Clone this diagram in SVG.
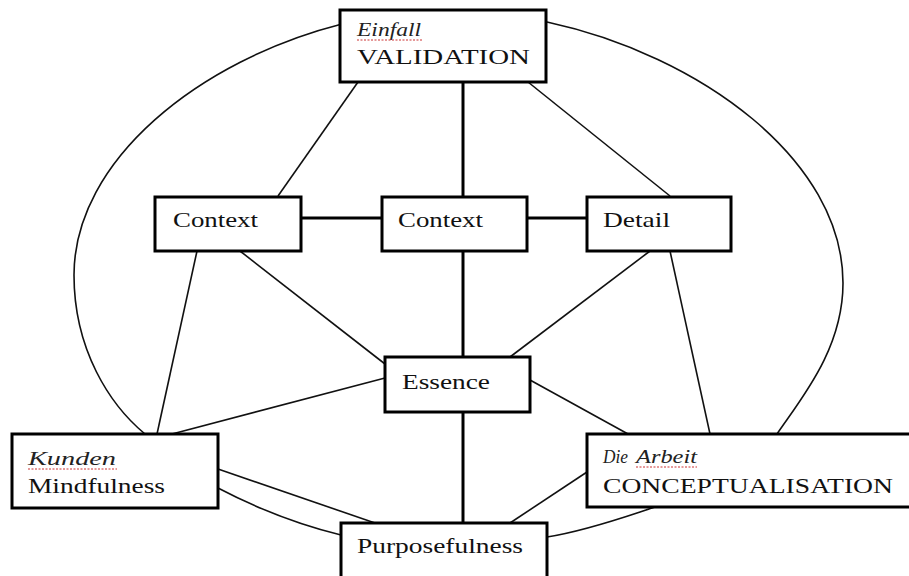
<svg xmlns="http://www.w3.org/2000/svg" width="909" height="576" viewBox="0 0 909 576">
<style>
.box{fill:#fff;stroke:#000;stroke-width:3}
.ln{stroke:#111;stroke-width:1.6;fill:none}
.vl{stroke:#000;stroke-width:3;fill:none}
.t{font-family:"Liberation Serif","Times New Roman",serif;font-size:21px;fill:#111}
.it{font-style:italic;font-size:19px;fill:#222}
.sq{stroke:#c33;stroke-width:1;fill:none;stroke-dasharray:2 1.5}
</style>
<rect width="909" height="576" fill="#fff"/>
<g id="connectors">
<path class="ln" d="M342,24 C200,60 74,160 74,275 C74,350 110,405 145,434"/>
<path class="ln" d="M547,22 C700,55 843,160 843,283 C843,350 800,400 777,434"/>
<path class="ln" d="M218,488 C260,510 300,525 341,535"/>
<path class="ln" d="M547,537 C590,530 630,515 655,507"/>
<line class="vl" x1="463" y1="82" x2="463" y2="196"/>
<line class="vl" x1="463" y1="250" x2="463" y2="357"/>
<line class="vl" x1="463" y1="412" x2="463" y2="523"/>
<line class="vl" x1="300" y1="218" x2="382" y2="218"/>
<line class="vl" x1="527" y1="218" x2="587" y2="218"/>
<line class="ln" x1="358" y1="82" x2="278" y2="196"/>
<line class="ln" x1="528" y1="82" x2="670" y2="196"/>
<line class="ln" x1="197" y1="251" x2="157" y2="434"/>
<line class="ln" x1="240" y1="251" x2="385" y2="364"/>
<line class="ln" x1="650" y1="251" x2="510" y2="357"/>
<line class="ln" x1="670" y1="251" x2="710" y2="434"/>
<line class="ln" x1="385" y1="378" x2="172" y2="434"/>
<line class="ln" x1="530" y1="380" x2="628" y2="434"/>
<line class="ln" x1="218" y1="469" x2="375" y2="523"/>
<line class="ln" x1="587" y1="472" x2="510" y2="523"/>
</g>
<g id="validation">
<rect class="box" x="340" y="10" width="206" height="72"/>
<text class="t it" x="357" y="36" textLength="64" lengthAdjust="spacingAndGlyphs">Einfall</text>
<path class="sq" d="M357,40 L422,40"/>
<text class="t" x="357" y="64" textLength="173" lengthAdjust="spacingAndGlyphs">VALIDATION</text>
</g>
<g id="context1">
<rect class="box" x="155" y="197" width="146" height="54"/>
<text class="t" x="173" y="227" textLength="85" lengthAdjust="spacingAndGlyphs">Context</text>
</g>
<g id="context2">
<rect class="box" x="382" y="197" width="145" height="54"/>
<text class="t" x="398" y="227" textLength="85" lengthAdjust="spacingAndGlyphs">Context</text>
</g>
<g id="detail">
<rect class="box" x="587" y="197" width="144" height="54"/>
<text class="t" x="603" y="227" textLength="67" lengthAdjust="spacingAndGlyphs">Detail</text>
</g>
<g id="essence">
<rect class="box" x="385" y="357" width="145" height="55"/>
<text class="t" x="402" y="389" textLength="88" lengthAdjust="spacingAndGlyphs">Essence</text>
</g>
<g id="mindfulness">
<rect class="box" x="12" y="434" width="206" height="74"/>
<text class="t it" x="28" y="465" textLength="88" lengthAdjust="spacingAndGlyphs">Kunden</text>
<path class="sq" d="M28,469 L117,469"/>
<text class="t" x="28" y="493" textLength="137" lengthAdjust="spacingAndGlyphs">Mindfulness</text>
</g>
<g id="conceptualisation">
<rect class="box" x="587" y="434" width="330" height="73"/>
<text class="t it" x="603" y="463" textLength="25" lengthAdjust="spacingAndGlyphs">Die</text>
<text class="t it" x="636" y="463" textLength="61" lengthAdjust="spacingAndGlyphs">Arbeit</text>
<path class="sq" d="M636,467 L697,467"/>
<text class="t" x="603" y="493" textLength="290" lengthAdjust="spacingAndGlyphs">CONCEPTUALISATION</text>
</g>
<g id="purposefulness">
<rect class="box" x="341" y="523" width="206" height="70"/>
<text class="t" x="357" y="553" textLength="166" lengthAdjust="spacingAndGlyphs">Purposefulness</text>
</g>
</svg>
